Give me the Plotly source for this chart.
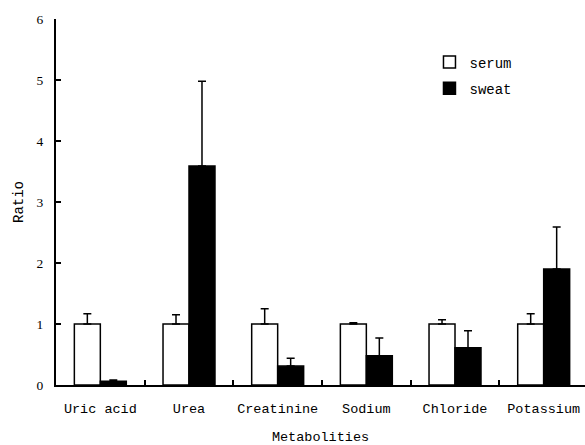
import plotly.graph_objects as go

categories = ["Uric acid", "Urea", "Creatinine", "Sodium", "Chloride", "Potassium"]
serum = [1.0, 1.0, 1.0, 1.0, 1.0, 1.0]
serum_err = [0.17, 0.15, 0.25, 0.02, 0.07, 0.17]
sweat = [0.06, 3.59, 0.31, 0.48, 0.61, 1.90]
sweat_err = [0.02, 1.39, 0.13, 0.29, 0.28, 0.69]
y_ticks = [0, 1, 2, 3, 4, 5, 6]

mono = "Liberation Mono"
serif = "Liberation Serif"

fig = go.Figure()
fig.add_trace(go.Bar(
    name="serum", x=categories, y=serum, legendgroup="a",
    marker=dict(color="white", line=dict(color="black", width=1.5)),
    error_y=dict(type="data", symmetric=False, array=serum_err,
                 arrayminus=[0]*len(serum_err), color="black", thickness=1.5, width=4),
))
fig.add_trace(go.Bar(
    name="sweat", x=categories, y=sweat, legendgroup="b",
    marker=dict(color="black", line=dict(color="black", width=1.5)),
    error_y=dict(type="data", symmetric=False, array=sweat_err,
                 arrayminus=[0]*len(sweat_err), color="black", thickness=1.5, width=4),
))

fig.update_layout(
    width=585, height=445,
    margin=dict(l=56, r=0, t=19, b=60),
    plot_bgcolor="white", paper_bgcolor="white",
    barmode="group", bargap=0.414, bargroupgap=0,
    font=dict(family=mono, size=13.5, color="black"),
    legend=dict(x=0.706, y=0.925, xanchor="left", yanchor="top",
                bgcolor="rgba(0,0,0,0)", font=dict(family=mono, size=14),
                itemwidth=30, tracegroupgap=5),
    showlegend=True,
)
fig.update_xaxes(
    type="category", range=[-0.5, 5.466], automargin=False, tickangle=0,
    showline=True, linecolor="black", linewidth=2,
    ticks="inside", tickson="boundaries", ticklen=5, tickwidth=1.5, tickcolor="black",
    showgrid=False, zeroline=False,
    tickfont=dict(family=mono, size=13.5), ticklabelstandoff=10,
    title=dict(text="Metabolities", font=dict(family=mono, size=13.5), standoff=15),
)
fig.update_yaxes(
    range=[0, 6], tickvals=y_ticks, ticktext=[str(v) for v in y_ticks], automargin=False,
    showline=True, linecolor="black", linewidth=2,
    ticks="inside", ticklen=5, tickwidth=1.5, tickcolor="black",
    showgrid=False, zeroline=False,
    tickfont=dict(family=serif, size=13.5), ticklabelstandoff=8,
    title=dict(text="Ratio", font=dict(family=mono, size=14), standoff=10),
)

fig.write_html("out.html")
